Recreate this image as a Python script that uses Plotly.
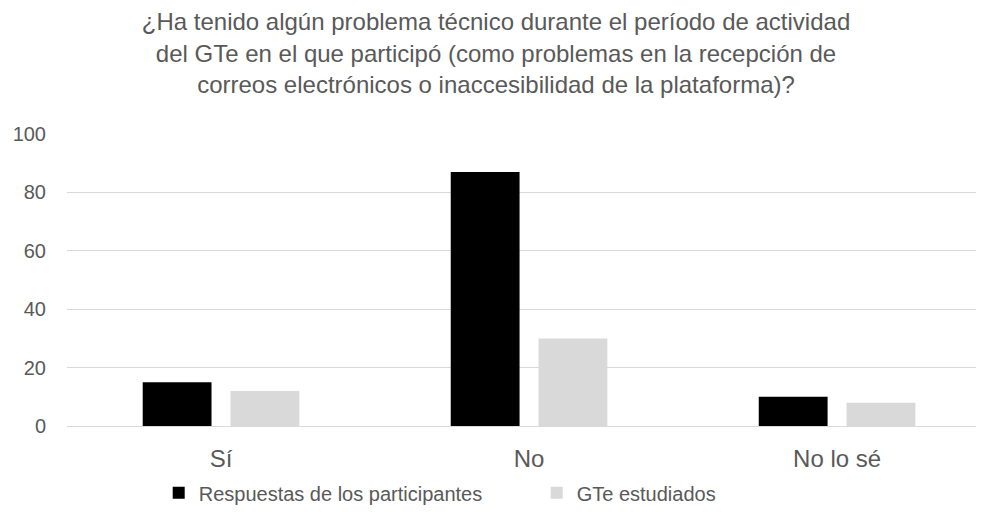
import plotly.graph_objects as go

categories = ["Sí", "No", "No lo sé"]
respuestas = [15, 87, 10]
gte_estudiados = [12, 30, 8]
y_ticks = [0, 20, 40, 60, 80, 100]

title_text = ("¿Ha tenido algún problema técnico durante el período de actividad<br>"
              "del GTe en el que participó (como problemas en la recepción de<br>"
              "correos electrónicos o inaccesibilidad de la plataforma)?")

font_grey = "#595959"
grid_grey = "#d9d9d9"

fig = go.Figure()
fig.add_trace(go.Bar(x=categories, y=respuestas, name="Respuestas de los participantes",
                     marker=dict(color="#000000", line=dict(width=0))))
fig.add_trace(go.Bar(x=categories, y=gte_estudiados, name="GTe estudiados",
                     marker=dict(color=grid_grey, line=dict(width=0))))

# page body has an 8px margin, so the figure is drawn 8px smaller and shifted
fig.update_layout(
    width=976, height=521,
    margin=dict(l=59, r=0, t=126, b=103),
    paper_bgcolor="white", plot_bgcolor="white",
    font=dict(family="Liberation Sans, Arial, sans-serif", color=font_grey, size=20),
    title=dict(text=title_text, x=0.5, xanchor="center", y=0.957, yanchor="top",
               font=dict(size=24, color=font_grey)),
    barmode="group", bargap=0.43, bargroupgap=0.216,
    showlegend=True,
    legend=dict(orientation="h", x=0.1, xanchor="left", y=-0.229, yanchor="middle",
                font=dict(size=20, color=font_grey), entrywidth=333),
)
fig.update_xaxes(range=[-0.5, 2.477], showgrid=False, showline=False, zeroline=False,
                 ticks="", ticklabelstandoff=16, tickfont=dict(size=24, color=font_grey))
fig.update_yaxes(range=[0, 100], tickvals=y_ticks, showgrid=True, gridcolor=grid_grey,
                 gridwidth=1, zeroline=True, zerolinecolor=grid_grey, zerolinewidth=1,
                 showline=False, ticks="", ticklabelstandoff=20,
                 tickfont=dict(size=20, color=font_grey))

fig.write_html("out.html")
